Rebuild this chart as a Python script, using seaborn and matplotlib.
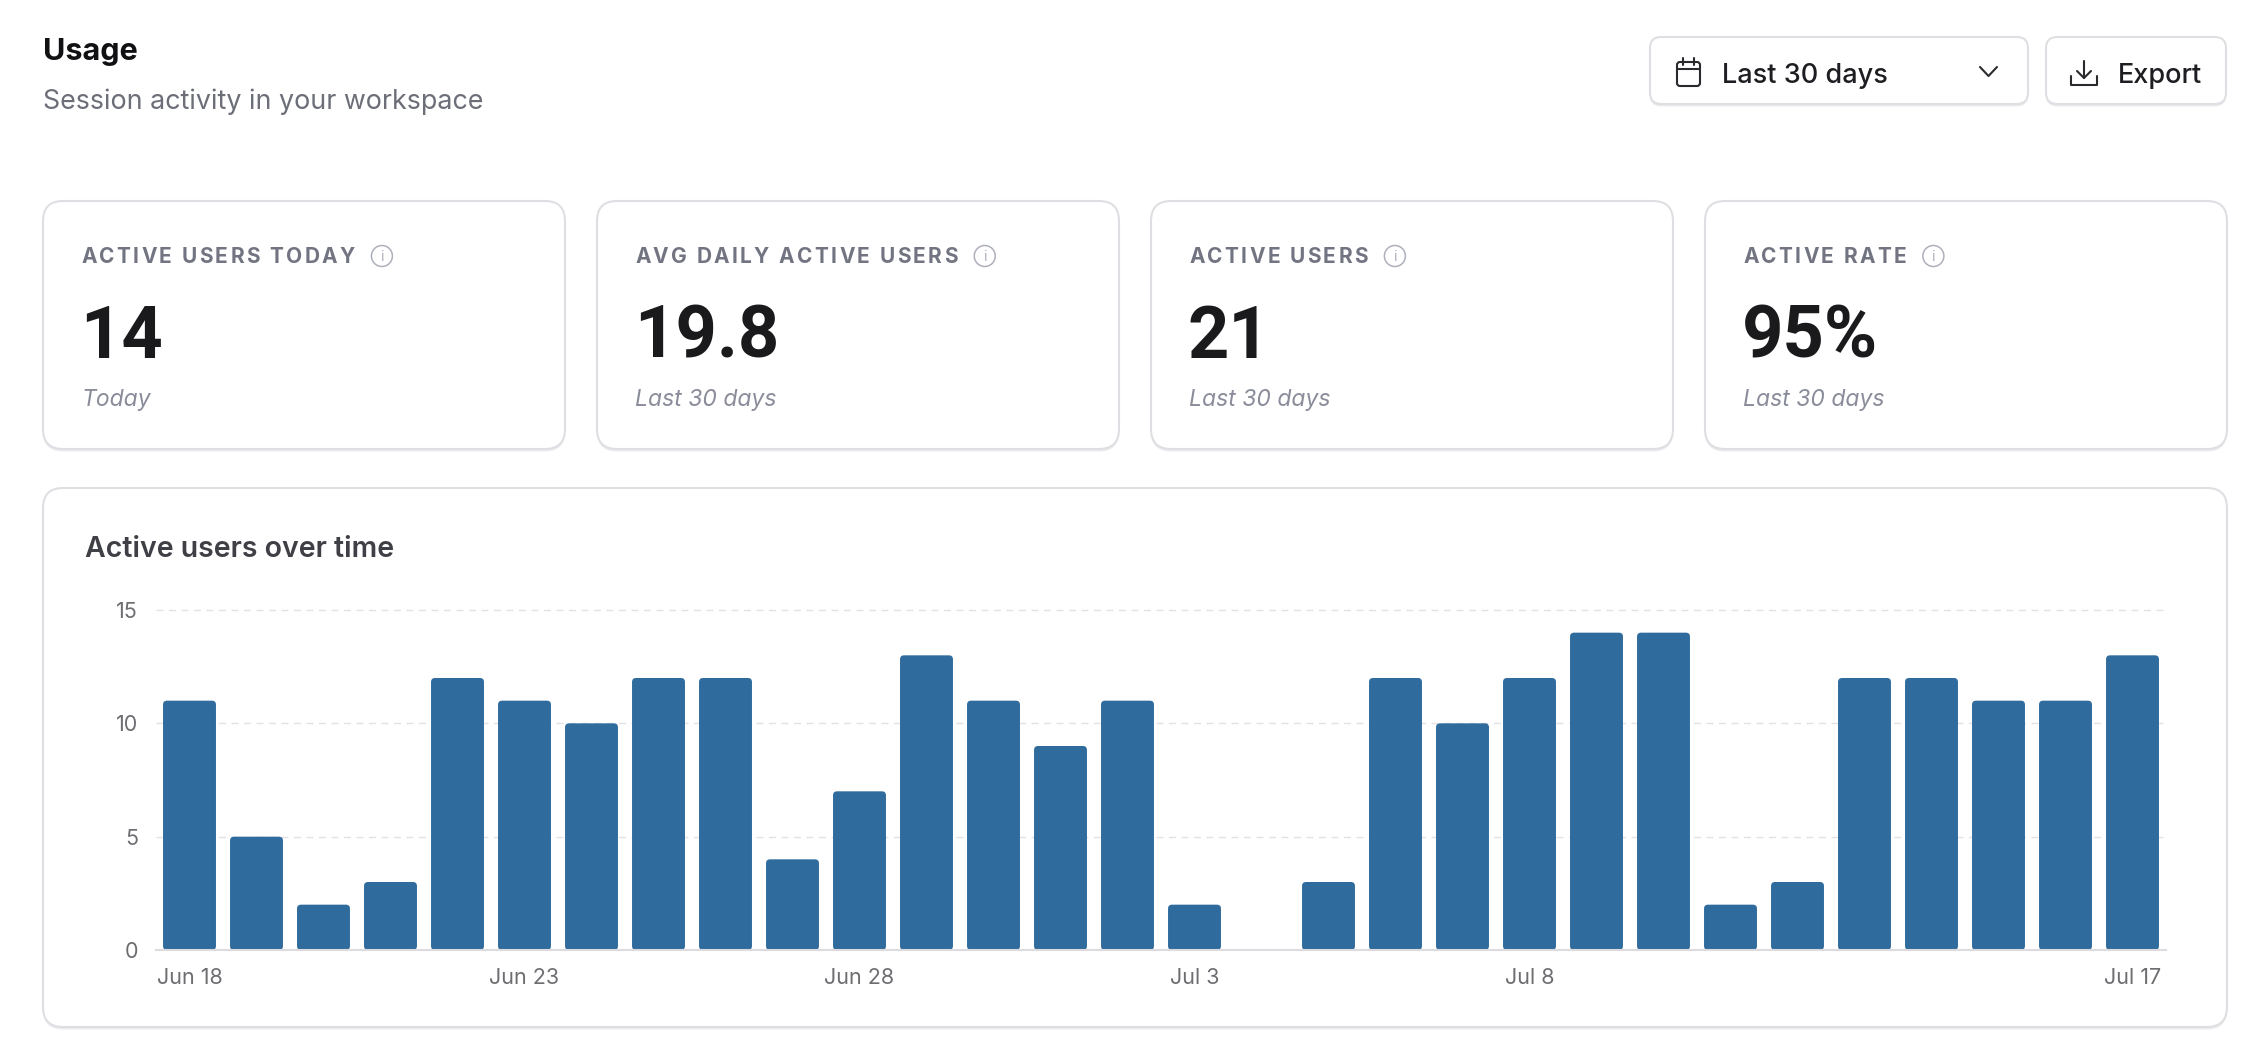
import pandas as pd
import numpy as np
import matplotlib
matplotlib.use('Agg')
import matplotlib.pyplot as plt
import matplotlib.transforms as mtransforms
from matplotlib.patches import FancyBboxPatch, Circle
from matplotlib.lines import Line2D
from matplotlib.font_manager import FontProperties
import seaborn as sns

# data
days = [f'Jun {d}' for d in range(18, 31)] + [f'Jul {d}' for d in range(1, 18)]
active_users = [11, 5, 2, 3, 12, 11, 10, 12, 12, 4, 7, 13, 11, 9, 11,
                2, 0, 3, 12, 10, 12, 14, 14, 2, 3, 12, 12, 11, 11, 13]
tick_days = ['Jun 18', 'Jun 23', 'Jun 28', 'Jul 3', 'Jul 8', 'Jul 17']
y_ticks = [0, 5, 10, 15]

card_titles = ['ACTIVE USERS TODAY', 'AVG DAILY ACTIVE USERS', 'ACTIVE USERS', 'ACTIVE RATE']
card_values = ['14', '19.8', '21', '95%']
card_notes = ['Today', 'Last 30 days', 'Last 30 days', 'Last 30 days']

BAR = '#2f6b9c'
FONT = ['Inter', 'DejaVu Sans']

sns.set_theme(style='white')
plt.rcParams['font.family'] = FONT

W, H = 2268, 1052
fig = plt.figure(figsize=(W / 100, H / 100), dpi=100)
fig.patch.set_facecolor('white')
PX = mtransforms.IdentityTransform()


def put(x, y, s, **kw):
    return fig.text(x / W, 1 - y / H, s, va='baseline', **kw)


def box(x0, y0, x1, y1, rad, ec='#dfdfe3', lw=1.5, shadow=True):
    if shadow:
        sh = FancyBboxPatch((x0, H - y1 - 2.5), x1 - x0, y1 - y0,
                            boxstyle=f'round,pad=0,rounding_size={rad}',
                            fc='#ececef', ec='none', transform=PX, zorder=-3)
        fig.add_artist(sh)
    p = FancyBboxPatch((x0, H - y1), x1 - x0, y1 - y0,
                       boxstyle=f'round,pad=0,rounding_size={rad}',
                       fc='white', ec=ec, lw=lw, transform=PX, zorder=-2)
    fig.add_artist(p)


def line(xs, ys, color='#2a2a2e', lw=1.5):
    fig.add_artist(Line2D(xs, [H - v for v in ys], color=color, lw=lw,
                          transform=PX, solid_capstyle='round',
                          solid_joinstyle='round', zorder=3))


def spaced(x, y, s, track, prop, color):
    r = fig.canvas.get_renderer()
    for i, ch in enumerate(s):
        w = r.get_text_width_height_descent(s[:i], prop, ismath=False)[0] if i else 0
        put(x + w + i * track, y, ch, fontproperties=prop, color=color)
    return x + r.get_text_width_height_descent(s, prop, ismath=False)[0] + (len(s) - 1) * track


# header
put(43, 60, 'Usage', fontsize=22, fontweight='bold', color='#111114')
put(43, 109, 'Session activity in your workspace', fontsize=19.3, color='#6c6e78')

# buttons
box(1650, 37, 2028, 104, 11)
box(2046, 37, 2226, 104, 11)
put(1722, 83, 'Last 30 days', fontsize=19.5, fontweight='medium', color='#1e1e22')
put(2118, 83, 'Export', fontsize=19.5, fontweight='medium', color='#1e1e22')
# calendar icon
cal = FancyBboxPatch((1677, H - 86), 23, 24, boxstyle='round,pad=0,rounding_size=3',
                     fc='none', ec='#2a2a2e', lw=1.5, transform=PX, zorder=3)
fig.add_artist(cal)
line([1677, 1700], [69, 69])
line([1683, 1683], [58, 65])
line([1694, 1694], [58, 65])
# chevron
line([1980, 1988.5, 1997], [67, 76, 67])
# download icon
line([2084, 2084], [61, 78])
line([2077, 2084, 2091], [71, 78, 71])
line([2071, 2071, 2097, 2097], [76, 85, 85, 76])

# stat cards
card_left = [43, 597, 1151, 1705]
label_prop = FontProperties(family=FONT, size=15, weight='bold')
for cx, title, val, note in zip(card_left, card_titles, card_values, card_notes):
    box(cx, 201, cx + 522, 449, 20)
    end = spaced(cx + 38, 263, title, 2.4, label_prop, '#727482')
    ic = Circle((end + 27, H - 256), 10.5, fc='none', ec='#aeb0bc', lw=1.1,
                transform=PX, zorder=3)
    fig.add_artist(ic)
    fig.text((end + 27) / W, 1 - 257 / H, 'i', fontsize=10, color='#aeb0bc',
             ha='center', va='center')
    put(cx + 37, 358, val, fontsize=52, fontweight='bold', color='#1a1a1c',
        family=['Roboto', 'DejaVu Sans'])
    put(cx + 38, 406, note, fontsize=16.5, style='italic', color='#8a8c9a')

# chart card
box(43, 488, 2227, 1027, 20)
put(85, 557, 'Active users over time', fontsize=20.5, fontweight='semibold', color='#3f3f46')

ymax = 15.2
ax = fig.add_axes([156 / W, (H - 950) / H, 2010 / W, (340 / 15 * ymax) / H])
ax.patch.set_alpha(0)
df = pd.DataFrame({'day': days, 'users': active_users})
sns.barplot(data=df, x='day', y='users', color=BAR, saturation=1, width=0.79, ax=ax)

# round the bar corners
unit_x = 2010 / 30
unit_y = 340 / 15
for p in list(ax.patches):
    x0, y0 = p.get_x(), p.get_y()
    w, h = p.get_width(), p.get_height()
    p.remove()
    if h <= 0:
        continue
    rb = FancyBboxPatch((x0, y0), w, h,
                        boxstyle=f'round,pad=0,rounding_size={4 / unit_x}',
                        mutation_aspect=unit_x / unit_y, fc=BAR, ec='none', zorder=2)
    ax.add_patch(rb)

ax.set_xlim(-0.5, len(days) - 0.5)
ax.set_ylim(0, ymax)
ax.set_yticks(y_ticks)
ax.set_xticks([days.index(d) for d in tick_days])
ax.set_xticklabels(tick_days)
ax.set_xlabel('')
ax.set_ylabel('')
ax.yaxis.grid(True, color='#e2e2e6', linestyle=(0, (5, 4)), linewidth=1.0)
ax.xaxis.grid(False)
ax.set_axisbelow(True)
for s in ['top', 'left', 'right']:
    ax.spines[s].set_visible(False)
ax.spines['bottom'].set_color('#dcdce0')
ax.spines['bottom'].set_linewidth(1.5)
ax.spines['bottom'].set_zorder(3)
ax.tick_params(axis='both', length=0, labelsize=15.5, labelcolor='#6e6e72')
ax.tick_params(axis='y', pad=13)
ax.tick_params(axis='x', pad=13)

fig.savefig('out.png', dpi=100, facecolor='white')
